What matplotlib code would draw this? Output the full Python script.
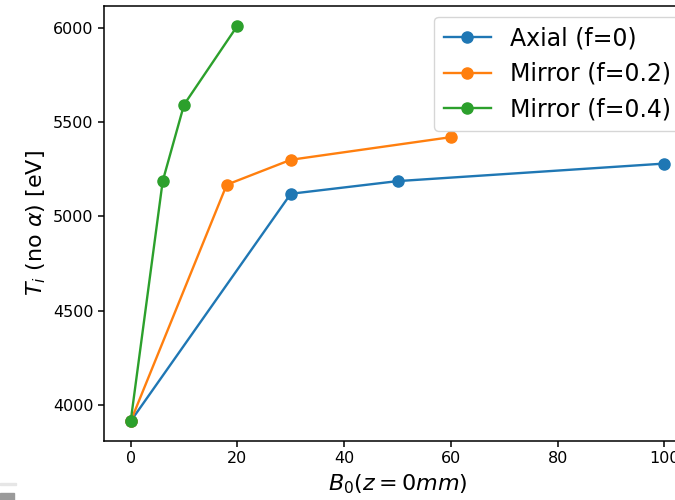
import matplotlib
matplotlib.use("Agg")
import matplotlib.pyplot as plt
from matplotlib.patches import Rectangle

axial_x = [0, 30, 50, 100]
axial_y = [3915, 5120, 5187, 5280]
mirror02_x = [0, 18, 30, 60]
mirror02_y = [3915, 5168, 5300, 5420]
mirror04_x = [0, 6, 10, 20]
mirror04_y = [3915, 5187, 5592, 6010]
labels = ["Axial (f=0)", "Mirror (f=0.2)", "Mirror (f=0.4)"]

fig = plt.figure(figsize=(6.75, 5.0), dpi=100)
W, H = 675, 500
left, right, top, bottom = 104, 691, 6, 441
ax = fig.add_axes([left / W, (H - bottom) / H, (right - left) / W, (bottom - top) / H])

kw = dict(marker="o", markersize=8, linewidth=1.7)
ax.plot(axial_x, axial_y, label=labels[0], color="#1f77b4", **kw)
ax.plot(mirror02_x, mirror02_y, label=labels[1], color="#ff7f0e", **kw)
ax.plot(mirror04_x, mirror04_y, label=labels[2], color="#2ca02c", **kw)

ax.set_xticks([0, 20, 40, 60, 80, 100])
ax.set_yticks([4000, 4500, 5000, 5500, 6000])
ax.tick_params(labelsize=11.5, width=1.1, length=4)
for s in ax.spines.values():
    s.set_linewidth(1.1)
ax.set_xlabel(r"$B_0(z=0mm)$", fontsize=16)
ax.set_ylabel(r"$T_i$ (no $\alpha$) [eV]", fontsize=16)
ax.legend(loc="upper right", fontsize=17, borderaxespad=0.45)

# screenshot artifact at bottom left
fig.patches.append(Rectangle((0, 15 / H), 16 / W, 2 / H, transform=fig.transFigure,
                             color="#e6e6e6", zorder=10))
fig.patches.append(Rectangle((0, 0), 14 / W, 7 / H, transform=fig.transFigure,
                             color="#9a9a9a", zorder=10))

fig.savefig("out.png", dpi=100)
